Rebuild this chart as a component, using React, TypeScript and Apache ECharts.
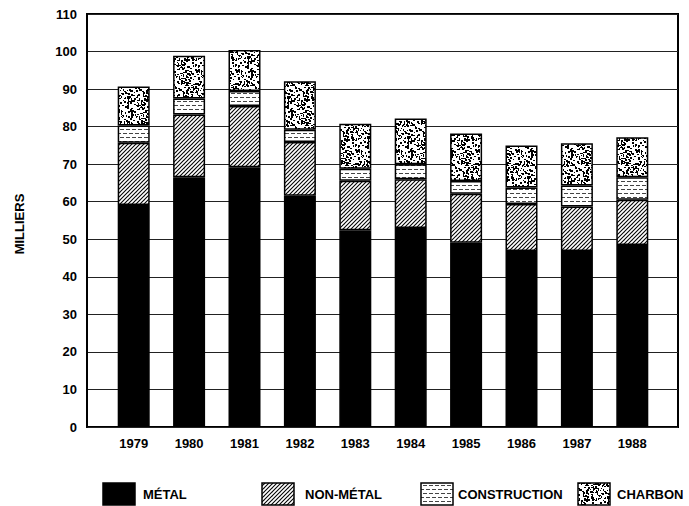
import React, { useEffect, useRef } from "react";
import * as echarts from "echarts";

const years = ["1979", "1980", "1981", "1982", "1983", "1984", "1985", "1986", "1987", "1988"];
const metal = [59.1, 66.5, 69.2, 61.6, 52.4, 53.0, 49.1, 46.9, 46.9, 48.5];
const nonMetal = [16.6, 16.7, 16.3, 14.3, 13.2, 13.0, 13.0, 12.5, 11.8, 12.0];
const construction = [4.6, 4.3, 4.0, 3.3, 3.2, 4.0, 3.4, 4.4, 5.6, 6.0];
const charbon = [10.4, 11.4, 10.9, 12.9, 12.0, 12.2, 12.7, 11.2, 11.3, 10.7];
const yTicks = { min: 0, max: 110, interval: 10 };
const legendNames = ["MÉTAL", "NON-MÉTAL", "CONSTRUCTION", "CHARBON"];

const FONT = "'Liberation Sans', Arial, Helvetica, sans-serif";

function makeCanvas(w: number, h: number, draw: (ctx: CanvasRenderingContext2D) => void) {
  const c = document.createElement("canvas");
  c.width = w;
  c.height = h;
  const ctx = c.getContext("2d")!;
  ctx.fillStyle = "#fff";
  ctx.fillRect(0, 0, w, h);
  ctx.fillStyle = "#000";
  ctx.strokeStyle = "#000";
  draw(ctx);
  return c;
}

function pattern(c: HTMLCanvasElement) {
  return { image: c, repeat: "repeat", imageWidth: c.width, imageHeight: c.height } as any;
}

function buildPatterns() {
  const hatch = makeCanvas(8, 8, (ctx) => {
    ctx.lineWidth = 1.05;
    for (let c = -8; c <= 24; c += 4) {
      ctx.beginPath();
      ctx.moveTo(-4, c + 4);
      ctx.lineTo(c + 4, -4);
      ctx.stroke();
    }
  });
  const bricks = makeCanvas(12, 8, (ctx) => {
    ctx.fillStyle = "#444";
    ctx.fillRect(0, 1, 4, 1);
    ctx.fillRect(6, 1, 4, 1);
    ctx.fillRect(3, 5, 4, 1);
    ctx.fillRect(9, 5, 3, 1);
    ctx.fillRect(0, 5, 1, 1);
  });
  let seed = 12345;
  const rnd = () => {
    seed = (seed * 1103515245 + 12345) % 2147483648;
    return seed / 2147483648;
  };
  const speckle = makeCanvas(40, 40, (ctx) => {
    for (let i = 0; i < 330; i++) {
      const x = Math.floor(rnd() * 40);
      const y = Math.floor(rnd() * 40);
      const w = 1 + Math.floor(rnd() * 2);
      const h = 1 + Math.floor(rnd() * 2);
      ctx.fillRect(x, y, w, h);
    }
  });
  return { hatch: pattern(hatch), bricks: pattern(bricks), speckle: pattern(speckle) };
}

export default function App() {
  const ref = useRef<HTMLDivElement>(null);
  useEffect(() => {
    if (!ref.current) return;
    const chart = echarts.init(ref.current, undefined, { renderer: "svg" });
    const p = buildPatterns();
    const fills = ["#000", p.hatch, p.bricks, p.speckle];
    const datas = [metal, nonMetal, construction, charbon];

    const legendIconX = [103, 262, 421, 578];
    const legendTextX = [143, 305, 458, 617];
    const legendGraphics: any[] = [];
    legendNames.forEach((n, i) => {
      legendGraphics.push({
        type: "rect",
        shape: { x: legendIconX[i], y: 483, width: 32, height: 22 },
        style: { fill: fills[i], stroke: "#000", lineWidth: 1.5 },
      });
      legendGraphics.push({
        type: "text",
        x: legendTextX[i],
        y: 494,
        style: {
          text: n,
          fill: "#000",
          font: `bold 13px ${FONT}`,
          verticalAlign: "middle",
          align: "left",
        },
      });
    });

    const option: any = {
      animation: false,
      backgroundColor: "#fff",
      grid: [
        { left: 87, right: 11, top: 14, bottom: 79, show: true, borderColor: "#000", borderWidth: 2, backgroundColor: "transparent" },
        { left: 106, right: 29, top: 14, bottom: 79 },
      ],
      xAxis: [
        { gridIndex: 0, type: "value", min: 0, max: 1, show: false },
        {
          gridIndex: 1,
          type: "category",
          data: years,
          axisLine: { show: false },
          axisTick: { show: false },
          axisLabel: { color: "#000", fontWeight: "bold", fontSize: 13, fontFamily: FONT, margin: 10 },
        },
      ],
      yAxis: [
        {
          gridIndex: 0,
          type: "value",
          min: yTicks.min,
          max: yTicks.max,
          interval: yTicks.interval,
          axisLine: { show: true, lineStyle: { color: "#000", width: 2 } },
          axisTick: { show: false },
          axisLabel: { color: "#000", fontWeight: "bold", fontSize: 13, fontFamily: FONT, margin: 10 },
          splitLine: { show: true, lineStyle: { color: "#222", width: 1 } },
        },
        { gridIndex: 1, type: "value", min: yTicks.min, max: yTicks.max, interval: yTicks.interval, show: false },
      ],
      series: legendNames.map((n, i) => ({
        name: n,
        type: "bar",
        stack: "total",
        xAxisIndex: 1,
        yAxisIndex: 1,
        barWidth: 32,
        data: datas[i],
        itemStyle: { color: fills[i], borderColor: "#000", borderWidth: 1.5 },
      })),
      graphic: [
        {
          type: "text",
          x: 19,
          y: 224,
          rotation: Math.PI / 2,
          style: {
            text: "MILLIERS",
            fill: "#000",
            font: `bold 13px ${FONT}`,
            align: "center",
            verticalAlign: "middle",
          },
        },
        ...legendGraphics,
      ],
    };
    chart.setOption(option);
    return () => chart.dispose();
  }, []);
  return (
    <div
      ref={ref}
      style={{ position: "fixed", left: 0, top: 0, width: 689, height: 506, background: "#fff" }}
    />
  );
}
